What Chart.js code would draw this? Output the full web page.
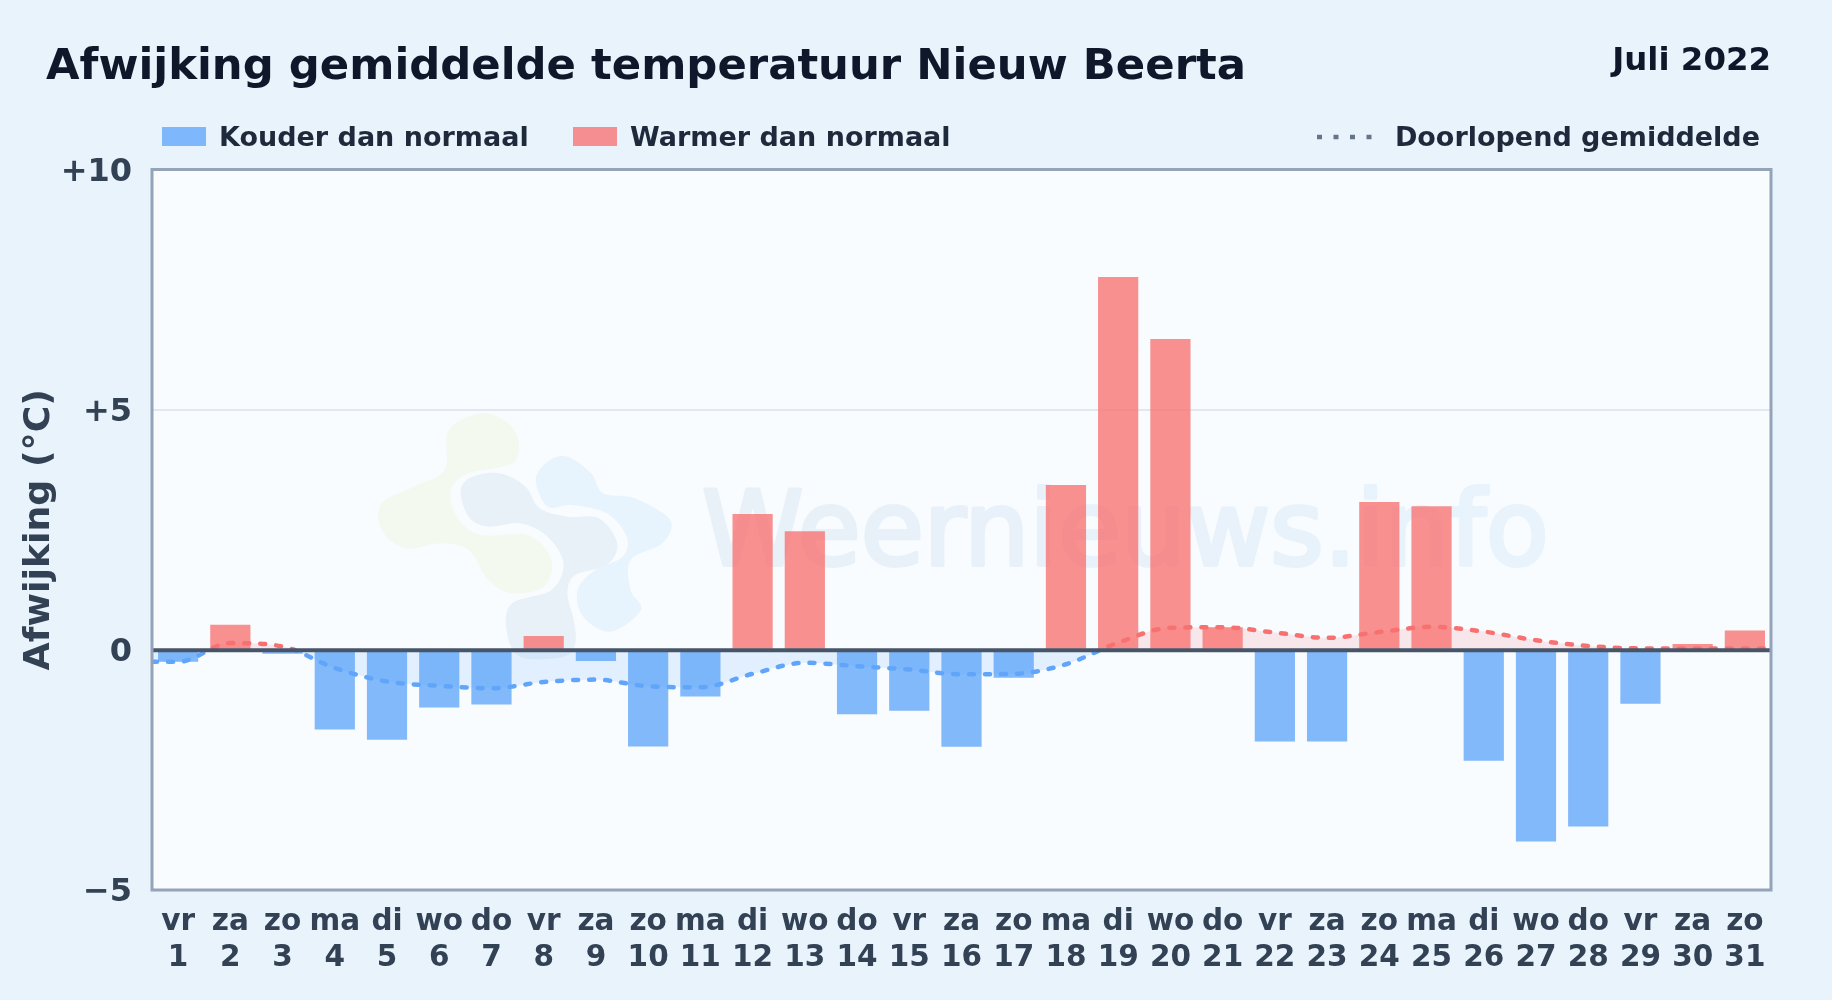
<!DOCTYPE html>
<html lang="nl">
<head>
<meta charset="utf-8">
<title>Afwijking gemiddelde temperatuur Nieuw Beerta</title>
<script src="https://cdn.jsdelivr.net/npm/chart.js@4"></script>
<style>
  html, body { margin: 0; padding: 0; background: #e8f3fc; }
  body { width: 1832px; height: 1000px; position: relative; overflow: hidden; font-family: "DejaVu Sans", sans-serif; font-weight: bold; }
  canvas { position: absolute; left: 0; top: 0; }
  .txt { position: absolute; white-space: nowrap; line-height: 1; }
  #title { left: 46px; top: 43px; font-size: 43.35px; color: #0f172a; }
  #period { right: 61px; top: 43px; font-size: 32.4px; color: #0f172a; }
  .leg { font-size: 27px; color: #1e293b; top: 123px; }
  .swatch { position: absolute; top: 127px; width: 44px; height: 19px; }
</style>
</head>
<body>
<canvas id="chart" width="1832" height="1000"></canvas>
<div class="txt" id="title">Afwijking gemiddelde temperatuur Nieuw Beerta</div>
<div class="txt" id="period">Juli 2022</div>
<div class="swatch" style="left:162px;background:rgba(96,165,250,.78)"></div>
<div class="txt leg" style="left:219px">Kouder dan normaal</div>
<div class="swatch" style="left:573px;background:rgba(248,113,113,.78)"></div>
<div class="txt leg" style="left:630px">Warmer dan normaal</div>
<svg style="position:absolute;left:1315px;top:130px" width="62" height="14"><line x1="2" y1="7" x2="60" y2="7" stroke="#64748b" stroke-width="4.5" stroke-dasharray="5 11.5"/></svg>
<div class="txt leg" style="right:72px">Doorlopend gemiddelde</div>

<script>
const weekdays = ['vr','za','zo','ma','di','wo','do','vr','za','zo','ma','di','wo','do','vr','za','zo','ma','di','wo','do','vr','za','zo','ma','di','wo','do','vr','za','zo'];
const days = [1,2,3,4,5,6,7,8,9,10,11,12,13,14,15,16,17,18,19,20,21,22,23,24,25,26,27,28,29,30,31];
const deviation = [-0.25,0.52,-0.08,-1.66,-1.87,-1.2,-1.14,0.29,-0.23,-2.01,-0.97,2.83,2.47,-1.34,-1.27,-2.02,-0.58,3.43,7.76,6.47,0.47,-1.91,-1.91,3.08,2.99,-2.31,-3.99,-3.68,-1.12,0.12,0.4];
const runningDays = [0.5,1,2,3,4,5,6,7,8,9,10,11,12,13,14,15,16,17,18,19,20,21,22,23,24,25,26,27,28,29,30,31,31.5];
const runningMean = [-0.25,-0.25,0.14,0.07,-0.38,-0.66,-0.75,-0.8,-0.67,-0.62,-0.76,-0.78,-0.5,-0.27,-0.34,-0.41,-0.51,-0.5,-0.3,0.15,0.46,0.47,0.36,0.25,0.37,0.48,0.38,0.2,0.08,0.03,0.03,0.03,0.03];

const COLD = 'rgba(96,165,250,.78)';
const WARM = 'rgba(248,113,113,.78)';

// watermark logo, closed curve through the points
function blob(ctx, pts) {
    ctx.beginPath();
    const n = pts.length;
    ctx.moveTo(pts[0][0], pts[0][1]);
    for (let i = 0; i < n; i++) {
        const p0 = pts[(i - 1 + n) % n], p1 = pts[i], p2 = pts[(i + 1) % n], p3 = pts[(i + 2) % n];
        ctx.bezierCurveTo(p1[0] + (p2[0] - p0[0]) / 6, p1[1] + (p2[1] - p0[1]) / 6,
                          p2[0] - (p3[0] - p1[0]) / 6, p2[1] - (p3[1] - p1[1]) / 6, p2[0], p2[1]);
    }
    ctx.closePath();
    ctx.fill();
}
const toPage = list => list.map(p => [350 + p[0] / 1.265, 390 + p[1] / 3]);
const logoGreen = toPage([[170,70],[208,120],[208,215],[150,250],[128,300],[135,380],[165,435],[225,435],[255,510],[245,590],[205,610],[175,570],[150,480],[115,460],[70,475],[40,420],[40,340],[80,290],[120,240],[125,120]]);
const logoMid = toPage([[190,250],[222,290],[240,355],[275,380],[315,385],[338,460],[325,525],[285,555],[275,610],[283,690],[285,760],[270,800],[215,800],[198,720],[205,640],[255,600],[270,520],[250,440],[215,400],[175,410],[150,380],[140,300],[155,260]]);
const logoBlue = toPage([[275,200],[305,250],[320,310],[360,325],[405,390],[395,460],[355,510],[355,600],[368,660],[330,725],[295,680],[288,600],[310,540],[345,500],[350,440],[325,370],[280,345],[250,350],[235,270],[250,215]]);

const plotFrame = {
    id: 'plotFrame',
    beforeDraw(chart) {
        const { ctx, chartArea: a } = chart;
        ctx.save();
        ctx.fillStyle = '#f8fcff';
        ctx.fillRect(a.left, a.top, a.width, a.height);
        ctx.fillStyle = 'rgba(243,248,236,.8)';
        blob(ctx, logoGreen);
        ctx.fillStyle = '#e9f1f8';
        blob(ctx, logoMid);
        ctx.fillStyle = '#e7f4fd';
        blob(ctx, logoBlue);
        const g = ctx.createLinearGradient(700, 0, 1550, 0);
        g.addColorStop(0, '#e8f0f8');
        g.addColorStop(1, '#e8f3fc');
        ctx.fillStyle = g;
        ctx.strokeStyle = g;
        ctx.lineWidth = 4;
        ctx.lineJoin = 'round';
        ctx.font = '102.7px "DejaVu Sans"';
        ctx.textBaseline = 'alphabetic';
        ctx.fillText('Weernieuws.info', 702, 565);
        ctx.strokeText('Weernieuws.info', 702, 565);
        ctx.restore();
    },
    afterDatasetsDraw(chart) {
        const { ctx, chartArea: a, scales } = chart;
        const zero = scales.y.getPixelForValue(0);
        ctx.save();
        ctx.strokeStyle = '#475569';
        ctx.lineWidth = 4;
        ctx.beginPath();
        ctx.moveTo(a.left, zero + 0.4);
        ctx.lineTo(a.right, zero + 0.4);
        ctx.stroke();
        ctx.strokeStyle = '#94a3b8';
        ctx.lineWidth = 3;
        ctx.strokeRect(a.left, a.top, a.width, a.height);
        ctx.restore();
    }
};

function splitAtZero(context) {
    const { chart } = context;
    if (!chart.chartArea) return WARM;
    const { top, bottom } = chart.chartArea;
    const zero = (chart.scales.y.getPixelForValue(0) - top) / (bottom - top);
    const g = chart.ctx.createLinearGradient(0, top, 0, bottom);
    g.addColorStop(0, '#f87171');
    g.addColorStop(zero, '#f87171');
    g.addColorStop(zero, '#60a5fa');
    g.addColorStop(1, '#60a5fa');
    return g;
}

new Chart(document.getElementById('chart').getContext('2d'), {
    type: 'bar',
    data: {
        labels: weekdays.map((d, i) => [d, String(days[i])]),
        datasets: [{
            type: 'line',
            label: 'Doorlopend gemiddelde',
            xAxisID: 'xLine',
            data: runningDays.map((d, i) => ({ x: d, y: runningMean[i] })),
            borderColor: splitAtZero,
            borderWidth: 4.5,
            borderDash: [5, 11],
            borderCapStyle: 'round',
            pointRadius: 0,
            cubicInterpolationMode: 'monotone',
            fill: { target: { value: 0 }, above: 'rgba(248,113,113,.15)', below: 'rgba(96,165,250,.15)' }
        }, {
            label: 'Afwijking',
            data: deviation,
            backgroundColor: deviation.map(v => v < 0 ? COLD : WARM),
            grouped: false,
            barPercentage: 0.77,
            categoryPercentage: 1
        }]
    },
    options: {
        responsive: false,
        devicePixelRatio: 1,
        animation: false,
        layout: { padding: { left: 18, right: 61, top: 169.5, bottom: 0 } },
        plugins: { legend: { display: false }, tooltip: { enabled: false } },
        scales: {
            x: {
                grid: { display: false },
                border: { display: false },
                ticks: {
                    color: '#334155',
                    font: { family: '"DejaVu Sans"', size: 29.5, weight: 'bold', lineHeight: 1.2 },
                    maxRotation: 0,
                    autoSkip: false,
                    padding: 7
                },
                afterFit(scale) { scale.height = 110; }
            },
            xLine: { type: 'linear', display: false, offset: false, min: 0.5, max: 31.5 },
            y: {
                min: -5,
                max: 10,
                grid: { color: ctx => ctx.tick.value === 5 ? '#e2e8f0' : 'transparent', lineWidth: 2, drawTicks: false },
                border: { display: false },
                ticks: {
                    stepSize: 5,
                    color: '#334155',
                    font: { family: '"DejaVu Sans"', size: 32, weight: 'bold' },
                    padding: 20,
                    labelOffset: 3,
                    callback: v => v > 0 ? '+' + v : v < 0 ? '\u2212' + Math.abs(v) : '0'
                },
                title: {
                    display: true,
                    text: 'Afwijking (°C)',
                    color: '#334155',
                    font: { family: '"DejaVu Sans"', size: 36.3, weight: 'bold' },
                    padding: 0
                },
                afterFit(scale) { scale.width = 134; }
            }
        }
    },
    plugins: [plotFrame]
});
</script>
</body>
</html>
